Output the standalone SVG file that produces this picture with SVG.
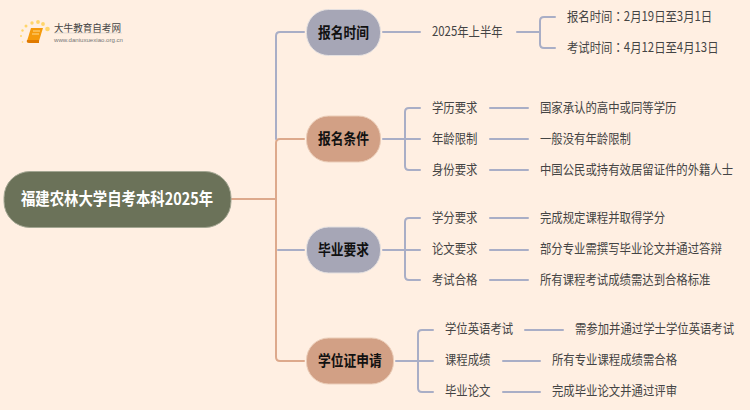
<svg xmlns="http://www.w3.org/2000/svg" width="750" height="410" viewBox="0 0 750 410">
<style>
text{font-family:"Noto Sans CJK SC","Liberation Sans",sans-serif;dominant-baseline:central}
.c{fill:none;stroke-width:2;stroke-linecap:round}
.g{stroke:#A9AEC6}
.t{stroke:#DDA98C}
.n{font-size:15px;font-weight:700;fill:#111}
.l{font-size:13px;fill:#444}
.pg{fill:#A6A6B6;stroke:#E4E0E0}
.pt{fill:#D2A085;stroke:#EBCDB8}
.tc{font-family:"Noto Sans CJK TC",sans-serif}
</style>
<rect width="750" height="410" fill="#FFEFE2"/>
<g id="connectors">
<path class="c t" d="M231 199H276M304 139H280Q276 139 276 143V357Q276 361 280 361H304"/>
<path class="c g" d="M304 32H280Q276 32 276 36V139"/>
<path class="c g" d="M278 250H304"/>
<path class="c g" d="M383 32H420M517 32H540M555 17H544Q540 17 540 21V44Q540 48 544 48H555"/>
<path class="c g" d="M383 139H420M420 108H409Q405 108 405 112V166Q405 170 409 170H420"/>
<path class="c g" d="M490 108H528M490 139H528M490 170H528"/>
<path class="c g" d="M383 250H420M420 218H409Q405 218 405 222V276Q405 280 409 280H420"/>
<path class="c g" d="M490 218H528M490 250H528M490 280H528"/>
<path class="c g" d="M396 361H433M433 330H422Q418 330 418 334V388Q418 392 422 392H433"/>
<path class="c g" d="M525 330H563M503 361H540M503 392H540"/>
</g>
<g id="logo">
<g fill="#FFD56A"><circle cx="47.500" cy="29" r="2.300"/><circle cx="43" cy="24" r="1.900"/><circle cx="38" cy="22" r="1.900"/><circle cx="32" cy="23" r="1.700"/><circle cx="26" cy="26" r="1.500"/><circle cx="22.500" cy="30.500" r="1.200"/><circle cx="21" cy="36" r="1"/><circle cx="22.500" cy="42" r="0.800"/></g>
<path d="M31 28H43L39 41H27Z" fill="#F59A0C"/><path d="M27 40H39V43H29Q26 43 27 40Z" fill="#E07A00"/>
<path d="M33 31H40M32 34H39" stroke="#FFD98A" stroke-width="1.200"/>
<text x="54" y="27" font-size="10" fill="#444" textLength="67" lengthAdjust="spacingAndGlyphs">大牛教育自考网</text>
<path d="M54 33H122" stroke="#D8D2CC" stroke-width="0.700"/>
<text x="54" y="39" font-size="6.200" fill="#777" style="font-family:'Liberation Sans',sans-serif" textLength="69" lengthAdjust="spacingAndGlyphs">www.daniuxuexiao.org.cn</text>
</g>
<g id="root"><rect x="4" y="171.500" width="227" height="56" rx="26" fill="#6B7259" stroke="#A3A692"/><text transform="matrix(.846 0 0 1 21 198)" font-size="17" font-weight="700" fill="#fff">福建农林大学自考本科2025年</text></g>
<g id="n1"><rect class="pg" x="306.500" y="9.500" width="74" height="46" rx="22"/><text class="n" transform="matrix(.85 0 0 1 318 31.500)">报名时间</text></g>
<g id="n2"><rect class="pt" x="306.500" y="116" width="74" height="46" rx="22"/><text class="n" transform="matrix(.85 0 0 1 318 138)">报名条件</text></g>
<g id="n3"><rect class="pg" x="306.500" y="227" width="74" height="46" rx="22"/><text class="n" transform="matrix(.85 0 0 1 318 249)">毕业要求</text></g>
<g id="n4"><rect class="pt" x="306.500" y="338" width="87" height="46" rx="22"/><text class="n" transform="matrix(.85 0 0 1 318 360)">学位证申请</text></g>
<g id="leaves">
<text class="l" transform="matrix(.875 0 0 1 432 31)">2025年上半年</text>
<text class="l" transform="matrix(.875 0 0 1 567 16)">报名时间<tspan class="tc">：</tspan>2月19日至3月1日</text>
<text class="l" transform="matrix(.875 0 0 1 567 47)">考试时间<tspan class="tc">：</tspan>4月12日至4月13日</text>
<text class="l" transform="matrix(.875 0 0 1 432 107)">学历要求</text><text class="l" transform="matrix(.875 0 0 1 540 107)">国家承认的高中或同等学历</text>
<text class="l" transform="matrix(.875 0 0 1 432 138)">年龄限制</text><text class="l" transform="matrix(.875 0 0 1 540 138)">一般没有年龄限制</text>
<text class="l" transform="matrix(.875 0 0 1 432 169)">身份要求</text><text class="l" transform="matrix(.875 0 0 1 540 169)">中国公民或持有效居留证件的外籍人士</text>
<text class="l" transform="matrix(.875 0 0 1 432 217)">学分要求</text><text class="l" transform="matrix(.875 0 0 1 540 217)">完成规定课程并取得学分</text>
<text class="l" transform="matrix(.875 0 0 1 432 248)">论文要求</text><text class="l" transform="matrix(.875 0 0 1 540 248)">部分专业需撰写毕业论文并通过答辩</text>
<text class="l" transform="matrix(.875 0 0 1 432 279)">考试合格</text><text class="l" transform="matrix(.875 0 0 1 540 279)">所有课程考试成绩需达到合格标准</text>
<text class="l" transform="matrix(.875 0 0 1 445 328)">学位英语考试</text><text class="l" transform="matrix(.875 0 0 1 575 328)">需参加并通过学士学位英语考试</text>
<text class="l" transform="matrix(.875 0 0 1 445 359)">课程成绩</text><text class="l" transform="matrix(.875 0 0 1 552 359)">所有专业课程成绩需合格</text>
<text class="l" transform="matrix(.875 0 0 1 445 390)">毕业论文</text><text class="l" transform="matrix(.875 0 0 1 552 390)">完成毕业论文并通过评审</text>
</g>
</svg>
